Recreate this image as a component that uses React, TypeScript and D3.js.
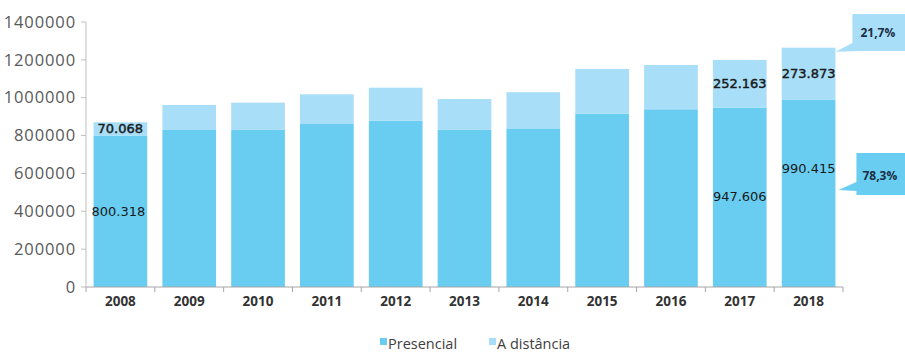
import React from "react";
import * as d3 from "d3";

const years = ["2008", "2009", "2010", "2011", "2012", "2013", "2014", "2015", "2016", "2017", "2018"];
const presencial = [800318, 829600, 830000, 861000, 879000, 830000, 838000, 916000, 939000, 947606, 990415];
const distancia = [70068, 132000, 144000, 157000, 174000, 163000, 191000, 236000, 234000, 252163, 273873];
const yTicks = [0, 200000, 400000, 600000, 800000, 1000000, 1200000, 1400000];
const seriesNames = ["Presencial", "A distância"];
const pctLabels = ["21,7%", "78,3%"];

const W = 905, H = 352;
const M = { left: 86, right: 62, top: 22, bottom: 65 };
const C_PRES = "#68CDF1";
const C_DIST = "#A8DEF7";

const fmt = (v: number) => d3.format(",")(v).replace(/,/g, ".");

export default function App() {
  const x = d3.scaleBand().domain(years).range([M.left, W - M.right]).paddingInner(0.22).paddingOuter(0.11);
  const y = d3.scaleLinear().domain([0, 1400000]).range([H - M.bottom, M.top]);
  const step = x.step();
  const bw = x.bandwidth();
  const y0 = y(0);

  const i17 = years.indexOf("2017");
  const i18 = years.indexOf("2018");
  const i08 = 0;
  const cx = (i: number) => (x(years[i]) as number) + bw / 2;

  const labelFont = "'DejaVu Sans', Verdana, sans-serif";
  const semi = { stroke: "#1a1a1a", strokeWidth: 0.45 };

  // callouts
  const top18 = y(presencial[i18] + distancia[i18]);
  const right18 = (x(years[i18]) as number) + bw;
  const c1 = { x: right18 + 17, y: 14, h: 37 };
  const c2 = { x: right18 + 21, y: 153, h: 42 };

  return (
    <svg width={W} height={H} style={{ position: "absolute", left: 0, top: 0, background: "#fff" }}>
      {/* y axis */}
      <line x1={M.left} x2={M.left} y1={M.top} y2={y0} stroke="#bfbfbf" />
      {yTicks.map((t) => (
        <g key={t}>
          <line x1={M.left - 5} x2={M.left} y1={y(t)} y2={y(t)} stroke="#bfbfbf" />
          <text x={M.left - 10} y={y(t)} dy="0.35em" textAnchor="end" fontFamily="'Open Sans', sans-serif" fontSize={16.5} letterSpacing={0.9} fill="#595959">
            {t}
          </text>
        </g>
      ))}
      {/* bars */}
      {years.map((yr, i) => (
        <g key={yr}>
          <rect x={x(yr)} width={bw} y={y(presencial[i])} height={y0 - y(presencial[i])} fill={C_PRES} />
          <rect x={x(yr)} width={bw} y={y(presencial[i] + distancia[i])} height={y(presencial[i]) - y(presencial[i] + distancia[i])} fill={C_DIST} />
        </g>
      ))}
      {/* x axis */}
      <line x1={M.left} x2={W - M.right} y1={y0} y2={y0} stroke="#a6a6a6" />
      {years.map((yr, i) => (
        <line key={"t" + yr} x1={M.left + i * step} x2={M.left + i * step} y1={y0} y2={y0 + 5} stroke="#a6a6a6" />
      ))}
      <line x1={W - M.right} x2={W - M.right} y1={y0} y2={y0 + 5} stroke="#a6a6a6" />
      {years.map((yr) => (
        <text key={"l" + yr} x={(x(yr) as number) + bw / 2} y={y0 + 19} textAnchor="middle" fontFamily="'Open Sans', sans-serif" fontWeight={700} fontSize={13.5} fill="#333">
          {yr}
        </text>
      ))}
      {/* data labels */}
      <text x={(x(years[i08]) as number) + 4} y={y(presencial[i08] + distancia[i08] / 2)} dy="0.3em" fontFamily={labelFont} fontSize={13} fill="#1a1a1a" {...semi}>
        {fmt(distancia[i08])}
      </text>
      <text x={cx(i08) - 2} y={y(presencial[i08] / 2)} dy="0.4em" textAnchor="middle" fontFamily={labelFont} fontSize={13} fill="#1a1a1a">
        {fmt(presencial[i08])}
      </text>
      <text x={cx(i17)} y={y(presencial[i17] + distancia[i17] / 2)} dy="0.35em" textAnchor="middle" fontFamily={labelFont} fontSize={13} fill="#1a1a1a" {...semi}>
        {fmt(distancia[i17])}
      </text>
      <text x={cx(i17)} y={y(presencial[i17] / 2)} dy="0.3em" textAnchor="middle" fontFamily={labelFont} fontSize={13} fill="#1a1a1a">
        {fmt(presencial[i17])}
      </text>
      <text x={cx(i18)} y={y(presencial[i18] + distancia[i18] / 2)} dy="0.35em" textAnchor="middle" fontFamily={labelFont} fontSize={13} fill="#1a1a1a" {...semi}>
        {fmt(distancia[i18])}
      </text>
      <text x={cx(i18)} y={y(presencial[i18] * 0.635)} dy="0.35em" textAnchor="middle" fontFamily={labelFont} fontSize={13} fill="#1a1a1a">
        {fmt(presencial[i18])}
      </text>
      {/* callouts */}
      <path
        d={`M${c1.x},${c1.y} H${W + 10} V${c1.y + c1.h} H${c1.x + 9} L${right18},${top18 + 4} L${c1.x},${c1.y + c1.h - 8} Z`}
        fill={C_DIST}
      />
      <text x={c1.x + 8} y={c1.y + 23} fontFamily="'Open Sans', sans-serif" fontWeight={700} fontSize={12} fill="#1c2f45">
        {pctLabels[0]}
      </text>
      <path
        d={`M${c2.x},${c2.y} H${W + 10} V${c2.y + c2.h} H${c2.x} V${c2.y + c2.h - 4} L${right18 + 3},${c2.y + c2.h - 5} L${c2.x},${c2.y + c2.h - 13} Z`}
        fill={C_PRES}
      />
      <text x={c2.x + 6} y={c2.y + 27} fontFamily="'Open Sans', sans-serif" fontWeight={700} fontSize={12} fill="#1c2f45">
        {pctLabels[1]}
      </text>
      {/* legend */}
      {seriesNames.map((n, i) => {
        const lx = 380 + i * 109;
        return (
          <g key={n}>
            <rect x={lx} y={338} width={7} height={7} fill={i === 0 ? C_PRES : C_DIST} />
            <text x={lx + 8} y={349} fontFamily="'Open Sans', sans-serif" fontSize={14.5} fill="#404040">
              {n}
            </text>
          </g>
        );
      })}
    </svg>
  );
}
